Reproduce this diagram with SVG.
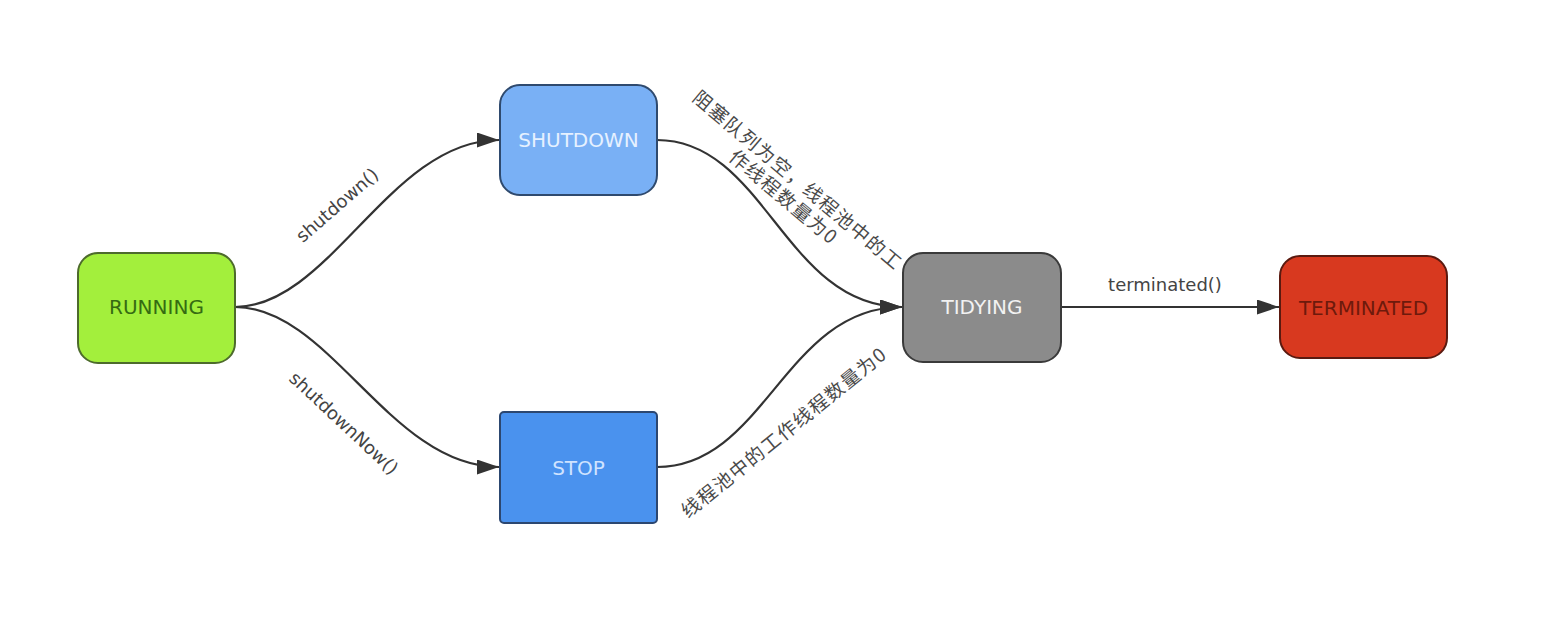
<svg xmlns="http://www.w3.org/2000/svg" width="1546" height="626" viewBox="0 0 1546 626">
<style>
.node rect{stroke-width:2}
.lbl{font-family:"DejaVu Sans",sans-serif;font-size:20px;text-anchor:middle;dominant-baseline:central}
.edge{fill:none;stroke:#333;stroke-width:2.2}
.elbl{font-family:"DejaVu Sans",sans-serif;font-size:18px;fill:#444;text-anchor:middle;dominant-baseline:central}
.cjk{font-family:"Noto Sans CJK SC",sans-serif;font-size:19px;fill:#4a4a4a;text-anchor:middle;dominant-baseline:central;letter-spacing:1.5px}
</style>
<defs>
<marker id="arr" markerUnits="userSpaceOnUse" markerWidth="24" markerHeight="16" refX="22" refY="7.5" orient="auto">
<path d="M0,0 L22,7.5 L0,15 Z" fill="#333"/>
</marker>
</defs>
<rect width="1546" height="626" fill="#fff"/>
<g id="connectors">
<path class="edge" d="M235,307 C330,307 390,140 499,140" marker-end="url(#arr)"/>
<path class="edge" d="M235,307 C330,307 390,467 499,467" marker-end="url(#arr)"/>
<path class="edge" d="M657,140 C765,140 785,307 902,307" marker-end="url(#arr)"/>
<path class="edge" d="M657,467 C765,467 785,307 902,307" marker-end="url(#arr)"/>
<path class="edge" d="M1061,307 L1279,307" marker-end="url(#arr)"/>
<text class="elbl" transform="translate(337,205) rotate(-41)">shutdown()</text>
<text class="elbl" transform="translate(344,423) rotate(43)">shutdownNow()</text>
<text class="elbl" x="1165" y="284">terminated()</text>
<text class="cjk" transform="translate(792,187) rotate(40)"><tspan x="0" y="-11">阻塞队列为空，线程池中的工</tspan><tspan x="0" y="11">作线程数量为0</tspan></text>
<text class="cjk" transform="translate(783,431) rotate(-39)">线程池中的工作线程数量为0</text>
</g>
<g id="RUNNING" class="node">
<rect x="78" y="253" width="157" height="110" rx="20" fill="#a3ef3c" stroke="#4d6b2c"/>
<text class="lbl" x="156.5" y="307" fill="#356b12">RUNNING</text>
</g>
<g id="SHUTDOWN" class="node">
<rect x="500" y="85" width="157" height="110" rx="20" fill="#79b0f5" stroke="#2f4a6e"/>
<text class="lbl" x="578.5" y="140" fill="#e6f1ff">SHUTDOWN</text>
</g>
<g id="STOP" class="node">
<rect x="500" y="412" width="157" height="111" rx="4" fill="#4a92ee" stroke="#2c4770"/>
<text class="lbl" x="578.5" y="468" fill="#cfe3ff">STOP</text>
</g>
<g id="TIDYING" class="node">
<rect x="903" y="253" width="158" height="109" rx="20" fill="#8b8b8b" stroke="#3a3a3a"/>
<text class="lbl" x="982" y="307" fill="#f2f2f2">TIDYING</text>
</g>
<g id="TERMINATED" class="node">
<rect x="1280" y="256" width="167" height="102" rx="20" fill="#d8391f" stroke="#5a1a10"/>
<text class="lbl" x="1363.5" y="308" fill="#6e1a0c">TERMINATED</text>
</g>
</svg>
